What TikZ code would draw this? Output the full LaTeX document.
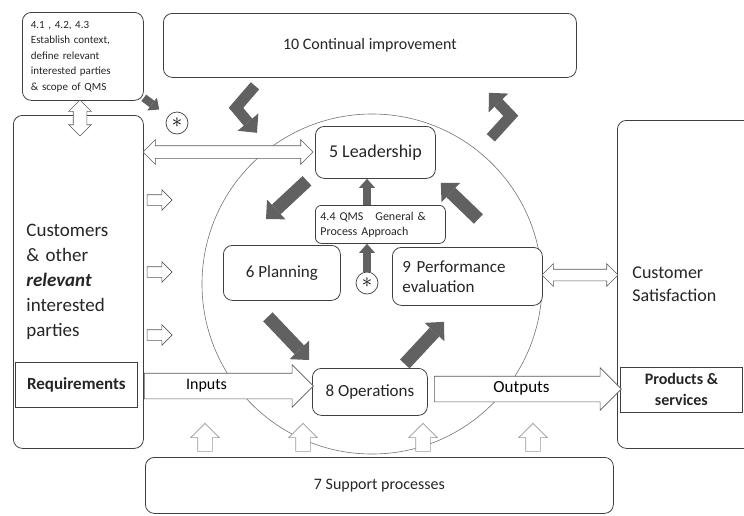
\documentclass[tikz,border=0pt]{standalone}
\usepackage{fontspec}
\setmainfont{Carlito}
\usetikzlibrary{shapes.arrows,arrows.meta}

\begin{document}
\begin{tikzpicture}[x=1pt,y=-1pt,
  box/.style={draw=black!75,line width=0.8pt,rounded corners=9pt,fill=white,anchor=north west,inner sep=0pt,text=black!85},
  sqbox/.style={draw=black!75,line width=0.8pt,fill=white,anchor=north west,inner sep=0pt,text=black!85},
  hollow/.style={draw=black!65,line width=0.6pt,fill=white,inner xsep=0pt},
  faint/.style={hollow,draw=black!40},
  cyc/.style={line width=13pt,draw=black!62,-{Triangle[width=27pt,length=14pt,line width=0pt]}},
  cycsmall/.style={line width=8pt,draw=black!62,-{Triangle[width=16pt,length=9pt,line width=0pt]}},
  star/.style={circle,draw=black!75,line width=0.7pt,fill=white,minimum size=22pt,inner sep=0pt,font=\fontsize{22}{22}\selectfont}]
\useasboundingbox (0,0) rectangle (744,515);

\draw[black!55,line width=0.6pt] (372,284) circle[radius=170pt];

\node[box,minimum width=121pt,minimum height=88pt,text width=104pt,align=left,font=\fontsize{11}{15.5}\selectfont] (ctx) at (22,12) {4.1 , 4.2, 4.3\\Establish context,\\define relevant\\interested parties\\\& scope of QMS};
\node[box,minimum width=413pt,minimum height=64pt,font=\fontsize{16}{18}\selectfont] (impr) at (163,13) {10 Continual improvement};
\node[box,minimum width=130pt,minimum height=333pt,text width=104pt,align=left,font=\fontsize{19}{25}\selectfont] (cust) at (13,115) {Customers\\\& other\\\textbf{\textit{relevant}}\\interested\\parties};
\node[sqbox,minimum width=122pt,minimum height=45pt,font=\bfseries\fontsize{17}{18}\selectfont] (req) at (15,362) {Requirements};
\node[box,minimum width=120pt,minimum height=52pt,font=\fontsize{18}{20}\selectfont] (lead) at (315,126) {5 Leadership};
\node[box,rounded corners=6pt,minimum width=130pt,minimum height=38pt,text width=120pt,align=left,font=\fontsize{12}{15}\selectfont] (qms) at (315,205) {4.4 QMS\quad General \&\\Process Approach};
\node[box,minimum width=117pt,minimum height=55pt,font=\fontsize{17}{20}\selectfont] (plan) at (223,245) {6 Planning};
\node[box,minimum width=150pt,minimum height=58pt,text width=130pt,align=left,font=\fontsize{17}{20}\selectfont] (perf) at (392,247) {9 Performance\\evaluation};
\node[box,minimum width=115pt,minimum height=47pt,font=\fontsize{17}{20}\selectfont] (ops) at (312,368) {8 Operations};
\node[box,minimum width=140pt,minimum height=328pt,text width=110pt,align=left,font=\fontsize{18}{23}\selectfont] (sat) at (617,120) {Customer\\Satisfaction};
\node[sqbox,minimum width=122pt,minimum height=45pt,align=center,font=\bfseries\fontsize{16}{21}\selectfont] (prod) at (620,367) {Products \&\\services};
\node[box,minimum width=468pt,minimum height=56pt,font=\fontsize{16}{18}\selectfont] (supp) at (145,457) {7 Support processes};

\node[hollow,double arrow,rotate=90,minimum height=36pt,inner ysep=6.5pt,double arrow head extend=4.5pt] (up1) at (80,118) {};
\node[hollow,double arrow,minimum height=170pt,inner ysep=6pt,double arrow head extend=6pt] (lr1) at (228,152) {};
\node[hollow,double arrow,minimum height=76pt,inner ysep=5.5pt,double arrow head extend=5.5pt] (lr2) at (580,275) {};
\foreach \y [count=\i] in {200,272,335}
  \node[hollow,single arrow,minimum height=25pt,inner ysep=5pt,single arrow head extend=5pt] (small\i) at (157,\y) {};
\node[hollow,single arrow,minimum height=169pt,text height=10pt,text depth=3pt,inner ysep=6pt,single arrow head extend=8.5pt,font=\fontsize{16}{18}\selectfont] (inputs) at (222.5,386) {Inputs\hspace*{32pt}};
\node[hollow,single arrow,minimum height=187pt,text height=10pt,text depth=3pt,inner ysep=6pt,single arrow head extend=8.5pt,font=\fontsize{17}{18}\selectfont] (outputs) at (521.5,389) {Outputs};
\foreach \x [count=\i] in {205,303,423,533}
  \node[faint,single arrow,rotate=90,minimum height=28pt,inner ysep=7pt,single arrow head extend=7pt] (sup\i) at (\x,441) {};

\node[star] (star1) at (177,123) {$\ast$};
\node[star] (star2) at (367,283) {$\ast$};

\draw[cyc] ([shift={(-8,2)}]lead.south west) -- ([shift={(43,-26)}]plan.north west);
\draw[cyc] ([shift={(-14,16)}]plan.south) -- ([shift={(-3,-8)}]ops.north west);
\draw[cyc] ([shift={(-23,-4)}]ops.north east) -- ([shift={(52,16)}]perf.south west);
\draw[cyc] ([shift={(11,-28)}]perf.north) -- ([shift={(5,4)}]lead.south east);
\draw[cycsmall] (star2 |- qms.north) -- (star2 |- lead.south);
\draw[cycsmall] (star2.north) -- (star2 |- qms.south);
\draw[cycsmall,shorten >=11pt] ([shift={(0,-3)}]ctx.south east) -- (star1);
\draw[cyc,line width=11pt] ([shift={(92,8)}]impr.south west) -- ++(-19,22) -- ++(21,25);
\draw[cyc,line width=11pt] ([shift={(-86,60)}]impr.south east) -- ++(20,-22) -- ++(-22,-23);
\end{tikzpicture}
\end{document}
